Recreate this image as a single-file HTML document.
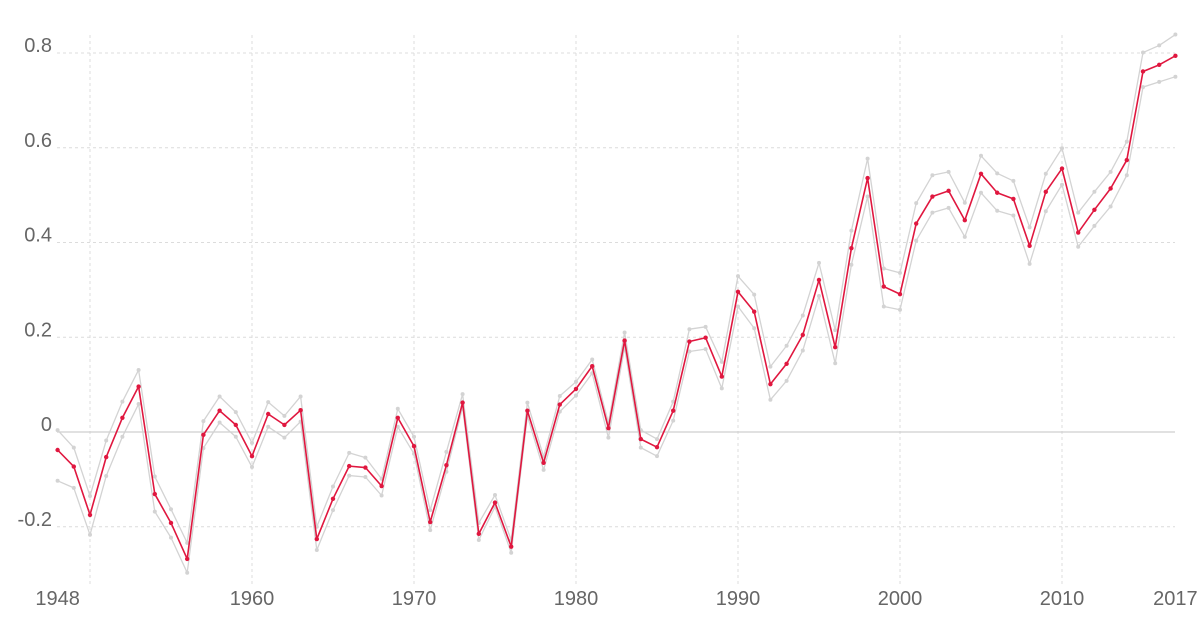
<!DOCTYPE html>
<html><head><meta charset="utf-8"><style>
html,body{margin:0;padding:0;background:#fff;}
svg{display:block;font-family:"Liberation Sans",sans-serif;}
</style></head><body>
<svg id="chart" width="1200" height="630"></svg>
<script>
const years = [];
for (let y = 1948; y <= 2017; y++) years.push(y);
const median = [-0.038,-0.073,-0.175,-0.053,0.030,0.096,-0.131,-0.192,-0.268,-0.006,0.045,0.015,-0.051,0.038,0.015,0.046,-0.226,-0.141,-0.072,-0.075,-0.114,0.030,-0.030,-0.190,-0.070,0.062,-0.215,-0.149,-0.242,0.045,-0.065,0.058,0.091,0.139,0.008,0.193,-0.015,-0.032,0.045,0.191,0.199,0.117,0.296,0.254,0.101,0.144,0.205,0.321,0.179,0.388,0.536,0.307,0.291,0.440,0.497,0.509,0.447,0.545,0.505,0.492,0.393,0.507,0.556,0.421,0.469,0.514,0.574,0.761,0.775,0.794];
const upper = [0.004,-0.033,-0.135,-0.018,0.064,0.131,-0.094,-0.163,-0.234,0.023,0.075,0.042,-0.023,0.063,0.034,0.075,-0.200,-0.115,-0.044,-0.054,-0.099,0.049,-0.010,-0.165,-0.042,0.080,-0.192,-0.133,-0.228,0.062,-0.052,0.076,0.106,0.153,0.019,0.210,0.004,-0.015,0.064,0.217,0.222,0.148,0.329,0.290,0.138,0.182,0.246,0.357,0.215,0.425,0.577,0.345,0.336,0.483,0.542,0.549,0.484,0.583,0.546,0.530,0.432,0.545,0.599,0.463,0.507,0.549,0.613,0.801,0.816,0.839];
const lower = [-0.103,-0.118,-0.217,-0.093,-0.010,0.059,-0.168,-0.223,-0.297,-0.034,0.020,-0.010,-0.074,0.011,-0.012,0.022,-0.249,-0.165,-0.092,-0.095,-0.134,0.011,-0.046,-0.207,-0.084,0.053,-0.228,-0.158,-0.255,0.034,-0.080,0.043,0.077,0.124,-0.012,0.179,-0.033,-0.051,0.024,0.170,0.175,0.092,0.265,0.219,0.068,0.108,0.172,0.287,0.145,0.353,0.497,0.265,0.258,0.404,0.463,0.473,0.412,0.505,0.467,0.457,0.355,0.466,0.522,0.391,0.435,0.476,0.542,0.728,0.739,0.750];
const yTicks = [-0.2,0,0.2,0.4,0.6,0.8];
const yTickLabels = ["-0.2","0","0.2","0.4","0.6","0.8"];
const xTicks = [1948,1960,1970,1980,1990,2000,2010,2017];
const xGrid = [1950,1960,1970,1980,1990,2000,2010];

const NS = "http://www.w3.org/2000/svg";
const svg = document.getElementById('chart');
const X = yr => 57.6 + (yr - 1948) * 16.2;
const Y = v => 432 - v * 473.75;
function el(tag, attrs, parent) {
  const e = document.createElementNS(NS, tag);
  for (const k in attrs) e.setAttribute(k, attrs[k]);
  (parent || svg).appendChild(e);
  return e;
}
xGrid.forEach(yr => {
  const l = el('line', {x1: X(yr), x2: X(yr), y1: 35, y2: 585, stroke: '#dcdcdc', 'stroke-dasharray': '3,3', 'stroke-width': 1});
  
  
});
yTicks.forEach((v, i) => {
  const l = el('line', {x1: 57, x2: 1175, y1: Y(v), y2: Y(v), stroke: v === 0 ? '#cfcfcf' : '#dcdcdc', 'stroke-dasharray': v === 0 ? '' : '3,3', 'stroke-width': v === 0 ? 1.3 : 1});
  
  
  const t = el('text', {x: 52, y: Y(v) - 1, 'text-anchor': 'end', 'font-size': 20, fill: '#666'});
  t.textContent = yTickLabels[i];
  
  
});
xTicks.forEach(yr => {
  const t = el('text', {x: X(yr), y: 605, 'text-anchor': 'middle', 'font-size': 20, fill: '#666'});
  t.textContent = yr;
  
  
});
function series(vals, color, w, r, name) {
  const g = el('g', {});
  
  
  const p = el('polyline', {points: vals.map((v, i) => X(years[i]) + ',' + Y(v)).join(' '), fill: 'none', stroke: color, 'stroke-width': w, 'stroke-linejoin': 'round'}, g);
  
  
  vals.forEach((v, i) => {
    const c = el('circle', {cx: X(years[i]), cy: Y(v), r: r, fill: color}, g);
    
    
  });
}
series(upper, '#d3d3d3', 1.3, 2, 'upper-bound-series');
series(lower, '#d3d3d3', 1.3, 2, 'lower-bound-series');
series(median, '#e0173f', 1.6, 2.2, 'median-series');
</script>
</body></html>
